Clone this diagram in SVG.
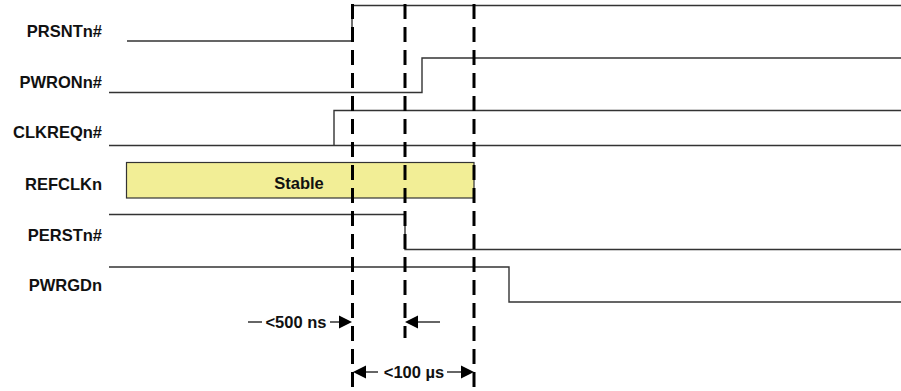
<svg xmlns="http://www.w3.org/2000/svg" width="901" height="391" viewBox="0 0 901 391">
<style>
.lbl{font-family:"Liberation Sans",Arial,sans-serif;font-weight:bold;font-size:16.5px;fill:#111;text-anchor:end}
.txt{font-family:"Liberation Sans",Arial,sans-serif;font-weight:bold;font-size:16.5px;fill:#111;text-anchor:middle}
.sig{fill:none;stroke:#333;stroke-width:1.4}
.dash{fill:none;stroke:#000;stroke-width:3;stroke-dasharray:15,8}
.arr{fill:none;stroke:#000;stroke-width:1.2}
.head{fill:#000}
</style>
<rect width="901" height="391" fill="#fff"/>
<g id="PRSNT">
<text class="lbl" x="102" y="37">PRSNTn#</text>
<polyline class="sig" points="127,41 352,41 352,5.5 901,5.5"/>
</g>
<g id="PWRON">
<text class="lbl" x="102" y="88">PWRONn#</text>
<polyline class="sig" points="109,92.5 422,92.5 422,58 901,58"/>
</g>
<g id="CLKREQ">
<text class="lbl" x="102" y="138">CLKREQn#</text>
<line class="sig" x1="109" y1="145.5" x2="901" y2="145.5"/>
<polyline class="sig" points="334,145.5 334,110.5 901,110.5"/>
</g>
<g id="REFCLK">
<text class="lbl" x="102" y="190">REFCLKn</text>
<rect x="126.5" y="162.5" width="347.5" height="35.5" fill="#F2EE96" stroke="#333" stroke-width="1.2"/>
<text class="txt" x="299" y="189">Stable</text>
</g>
<g id="PERST">
<text class="lbl" x="102" y="241">PERSTn#</text>
<polyline class="sig" points="109,214.5 405,214.5 405,249.5 901,249.5"/>
</g>
<g id="PWRGD">
<text class="lbl" x="102" y="291">PWRGDn</text>
<polyline class="sig" points="109,267 509,267 509,302 901,302"/>
</g>
<g id="connectors">
<line class="dash" x1="352.5" y1="4" x2="352.5" y2="390"/>
<line class="dash" x1="405" y1="4" x2="405" y2="338"/>
<line class="dash" x1="474" y1="4" x2="474" y2="390"/>
<line class="arr" x1="248" y1="322" x2="262" y2="322"/>
<text class="txt" x="296" y="328">&lt;500 ns</text>
<line class="arr" x1="330" y1="322" x2="341" y2="322"/>
<polygon class="head" points="352,322 339,315.5 339,328.5"/>
<polygon class="head" points="405,322 418,315.5 418,328.5"/>
<line class="arr" x1="417" y1="322" x2="440" y2="322"/>
<polygon class="head" points="353,372 366,365.5 366,378.5"/>
<line class="arr" x1="365" y1="372" x2="378" y2="372"/>
<text class="txt" x="414" y="378">&lt;100 µs</text>
<line class="arr" x1="447" y1="372" x2="462" y2="372"/>
<polygon class="head" points="474,372 461,365.5 461,378.5"/>
</g>
</svg>
